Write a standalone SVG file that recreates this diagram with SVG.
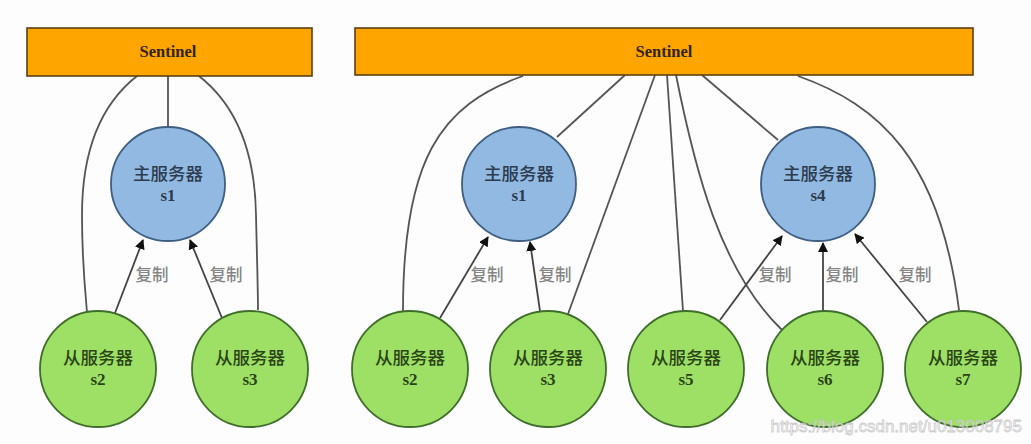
<svg xmlns="http://www.w3.org/2000/svg" width="1031" height="444" viewBox="0 0 1031 444">
<defs>
<marker id="ah" viewBox="0 0 10 10" refX="9" refY="5" markerWidth="10" markerHeight="10" markerUnits="userSpaceOnUse" orient="auto">
<path d="M0,0 L10,5 L0,10 z" fill="#111"/>
</marker>
<style>
.sent{fill:#FFA500;stroke:#5a4010;stroke-width:1.6}
.st{font-family:"Liberation Serif",serif;font-weight:bold;font-size:16.5px;fill:#33250a;text-anchor:middle}
.m{fill:#92B9E2;stroke:#3f5f82;stroke-width:1.8}
.s{fill:#9EE065;stroke:#3f6e2a;stroke-width:1.8}
.cn{font-family:"Noto Sans CJK SC","Noto Sans",sans-serif;font-size:17.5px;font-weight:500;text-anchor:middle}
.id{font-family:"Liberation Serif",serif;font-weight:bold;font-size:17px;text-anchor:middle}
.mt{fill:#2c3b4e}
.stx{fill:#2a4418}
.c{fill:none;stroke:#555;stroke-width:1.8}
.a{fill:none;stroke:#444;stroke-width:1.8;marker-end:url(#ah)}
.lb{font-family:"Noto Sans CJK SC","Noto Sans",sans-serif;font-size:16.5px;font-weight:500;fill:#858585;text-anchor:middle}
</style>
</defs>
<rect width="1031" height="444" fill="#fdfdfd"/>
<g id="connectors">
<path class="c" d="M168,76 L168,126"/>
<path class="c" d="M137,76 C100,105 82,150 82,215 C82,260 85,290 87,312"/>
<path class="c" d="M199,76 C236,105 255,150 256,215 C257,260 258,290 258,310"/>
<path class="a" d="M115,313 L143,240"/>
<path class="a" d="M222,318 L190,240"/>
<path class="c" d="M523,76 C440,105 403,160 403,311"/>
<path class="c" d="M625,75 L557,137"/>
<path class="c" d="M655,75 L568,314"/>
<path class="c" d="M667,75 L683,311"/>
<path class="c" d="M676,75 C695,170 720,270 782,330"/>
<path class="c" d="M702,75 L778,140"/>
<path class="c" d="M798,76 C880,105 940,160 959,310"/>
<path class="a" d="M440,318 L488,237"/>
<path class="a" d="M540,311 L530,242"/>
<path class="a" d="M720,320 L782,236"/>
<path class="a" d="M823,311 L823,243"/>
<path class="a" d="M927,322 L855,234"/>
<text class="lb" x="152" y="281">复制</text>
<text class="lb" x="226" y="281">复制</text>
<text class="lb" x="487" y="281">复制</text>
<text class="lb" x="555" y="281">复制</text>
<text class="lb" x="775" y="281">复制</text>
<text class="lb" x="842" y="281">复制</text>
<text class="lb" x="915" y="281">复制</text>
</g>
<g id="sentinel-left"><rect class="sent" x="27" y="28" width="285" height="48"/><text class="st" x="168" y="57">Sentinel</text></g>
<g id="sentinel-right"><rect class="sent" x="355" y="28" width="618" height="47"/><text class="st" x="664" y="57">Sentinel</text></g>
<g id="left-s1"><circle class="m" cx="168" cy="184" r="57"/><text class="cn mt" x="168" y="180">主服务器</text><text class="id mt" x="168" y="201">s1</text></g>
<g id="left-s2"><circle class="s" cx="98" cy="369" r="58"/><text class="cn stx" x="98" y="364">从服务器</text><text class="id stx" x="98" y="385">s2</text></g>
<g id="left-s3"><circle class="s" cx="250" cy="369" r="58"/><text class="cn stx" x="250" y="364">从服务器</text><text class="id stx" x="250" y="385">s3</text></g>
<g id="right-s1"><circle class="m" cx="519" cy="184" r="57"/><text class="cn mt" x="519" y="180">主服务器</text><text class="id mt" x="519" y="201">s1</text></g>
<g id="right-s4"><circle class="m" cx="818" cy="184" r="57"/><text class="cn mt" x="818" y="180">主服务器</text><text class="id mt" x="818" y="201">s4</text></g>
<g id="right-s2"><circle class="s" cx="410" cy="369" r="58"/><text class="cn stx" x="410" y="364">从服务器</text><text class="id stx" x="410" y="385">s2</text></g>
<g id="right-s3"><circle class="s" cx="548" cy="369" r="58"/><text class="cn stx" x="548" y="364">从服务器</text><text class="id stx" x="548" y="385">s3</text></g>
<g id="right-s5"><circle class="s" cx="686" cy="369" r="58"/><text class="cn stx" x="686" y="364">从服务器</text><text class="id stx" x="686" y="385">s5</text></g>
<g id="right-s6"><circle class="s" cx="825" cy="369" r="58"/><text class="cn stx" x="825" y="364">从服务器</text><text class="id stx" x="825" y="385">s6</text></g>
<g id="right-s7"><circle class="s" cx="963" cy="369" r="58"/><text class="cn stx" x="963" y="364">从服务器</text><text class="id stx" x="963" y="385">s7</text></g>
<text x="1022" y="432" font-family="Liberation Sans, sans-serif" font-size="17" fill="#ffffff" fill-opacity="0.55" stroke="#bdbdbd" stroke-width="0.8" stroke-opacity="0.8" text-anchor="end">https://blog.csdn.net/u013008795</text>
</svg>
